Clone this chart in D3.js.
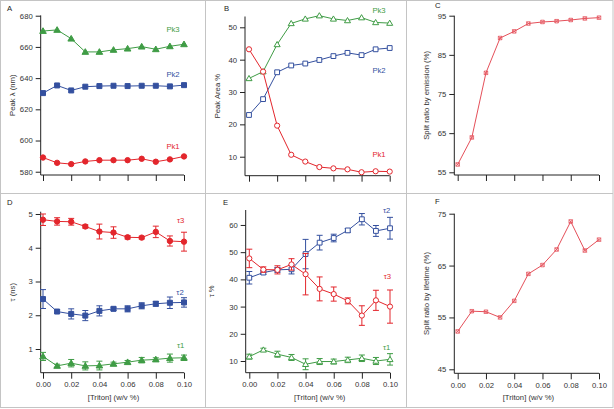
<!DOCTYPE html>
<html><head><meta charset="utf-8">
<script src="https://cdn.jsdelivr.net/npm/d3@7"></script>
<style>
body{margin:0;background:#fff;}
svg{display:block;font-family:"Liberation Sans",Arial,sans-serif;}
</style></head>
<body>
<script>
// ---------- data ----------
const triton = [0, 0.01, 0.02, 0.03, 0.04, 0.05, 0.06, 0.07, 0.08, 0.09, 0.10];
const xTicks = [0, 0.02, 0.04, 0.06, 0.08, 0.10];

// A: peak wavelength (nm)
const lambdaPk1 = [589.1, 585.7, 584.9, 586.6, 587.4, 587.4, 587.4, 588.3, 586.4, 587.9, 589.8];
const lambdaPk2 = [630.4, 635.3, 632.1, 634.5, 634.9, 635.1, 634.9, 635.1, 635.1, 634.7, 635.5];
const lambdaPk3 = [670.2, 670.9, 665.3, 656.8, 656.8, 658.1, 658.9, 660.2, 658.5, 660.4, 661.7];
const ticksA = [580, 600, 620, 640, 660, 680];

// B: peak area %
const areaPk1 = [43.2, 36.3, 19.6, 10.6, 8.5, 6.8, 6.4, 6.1, 5.2, 5.5, 5.4];
const areaPk2 = [22.9, 27.8, 36.1, 38.2, 38.8, 39.9, 41.1, 42.1, 41.4, 43.2, 43.6];
const areaPk3 = [34.2, 36.3, 44.7, 51.2, 52.6, 53.6, 52.6, 52.1, 53.0, 51.5, 51.3];
const ticksB = [10, 20, 30, 40, 50];

// C: split ratio by emission (%)
const splitEmission = [57.0, 63.9, 80.4, 89.3, 91.0, 93.0, 93.4, 93.6, 93.9, 94.3, 94.5];
const ticksC = [55, 65, 75, 85, 95];

// D: lifetimes (ns) with errors
const tau1 = [0.78, 0.50, 0.58, 0.50, 0.51, 0.56, 0.61, 0.67, 0.69, 0.73, 0.74];
const tau1Err = [0.12, 0.05, 0.11, 0.12, 0.13, 0.05, 0.05, 0.08, 0.05, 0.12, 0.08];
const tau2 = [2.48, 2.11, 2.04, 1.99, 2.13, 2.19, 2.19, 2.28, 2.34, 2.37, 2.38];
const tau2Err = [0.28, 0.05, 0.15, 0.15, 0.15, 0.05, 0.09, 0.09, 0.07, 0.17, 0.14];
const tau3 = [4.83, 4.78, 4.77, 4.63, 4.48, 4.45, 4.31, 4.30, 4.47, 4.20, 4.18];
const tau3Err = [0.17, 0.11, 0.10, 0.05, 0.22, 0.17, 0.05, 0.04, 0.17, 0.15, 0.28];
const ticksD = [1, 2, 3, 4, 5];

// E: lifetime fractions (%) with errors
const frac1 = [11.6, 14.1, 12.5, 11.3, 8.8, 9.8, 9.8, 10.4, 11.0, 10.0, 10.6];
const frac1Err = [0.9, 0.6, 1.1, 1.1, 2.0, 1.1, 0.9, 1.0, 1.2, 1.3, 2.1];
const frac2 = [40.6, 42.5, 43.5, 43.7, 49.3, 53.5, 55.2, 58.0, 62.1, 57.8, 58.8];
const frac2Err = [2.3, 0.7, 0.9, 1.7, 5.4, 2.7, 1.4, 0.7, 2.1, 2.0, 4.0];
const frac3 = [47.7, 43.6, 43.5, 45.5, 41.9, 36.5, 34.6, 32.1, 26.7, 32.3, 30.0];
const frac3Err = [3.4, 1.0, 1.5, 2.1, 7.6, 4.4, 2.6, 1.1, 3.6, 3.7, 6.1];
const ticksE = [10, 20, 30, 40, 50, 60];

// F: split ratio by lifetime (%)
const splitLifetime = [52.3, 56.2, 56.1, 55.0, 58.2, 63.4, 65.1, 68.1, 73.5, 67.9, 70.0];
const ticksF = [45, 55, 65, 75];

// ---------- styling ----------
const RED = "#e3262c", BLUE = "#34509f", GREEN = "#3f9c45", PINK = "#e5505a";
const W = 614, H = 409;
const FS = 7.7;

const svg = d3.select("body").append("svg").attr("width", W).attr("height", H);

// panel frames
const frame = svg.append("g").attr("stroke", "#c4c4c4").attr("fill", "none").attr("stroke-width", 1);
frame.append("rect").attr("x", 0.5).attr("y", 0.5).attr("width", 612.5).attr("height", 407);
frame.append("line").attr("x1", 205.5).attr("x2", 205.5).attr("y1", 0).attr("y2", 408);
frame.append("line").attr("x1", 406.5).attr("x2", 406.5).attr("y1", 0).attr("y2", 408);
frame.append("line").attr("x1", 0).attr("x2", 613).attr("y1", 193.5).attr("y2", 193.5);

function markerPath(type, size) {
  const s = size / 2;
  if (type === "circle") return d3.symbol(d3.symbolCircle, Math.PI * s * s)();
  if (type === "square") return `M${-s},${-s}H${s}V${s}H${-s}Z`;
  if (type === "triangle") { const h = size * 0.9; return `M0,${-h * 0.6}L${s * 1.1},${h * 0.45}L${-s * 1.1},${h * 0.45}Z`; }
  if (type === "cross") return `M${-s},${-s}L${s},${s}M${s},${-s}L${-s},${s}M${-s},${-s}H${s}V${s}H${-s}Z`;
  return "";
}

function panel(cfg) {
  const g = svg.append("g");
  const x = d3.scaleLinear().domain([0, 0.1]).range([cfg.x0, cfg.x1]);
  const y = d3.scaleLinear().domain(cfg.yDomain).range([cfg.yBottom, cfg.yTop]);

  // y axis
  const ya = g.append("g").attr("transform", `translate(${cfg.axisX},0)`)
    .call(d3.axisLeft(y).tickValues(cfg.yTicks).tickSize(5).tickPadding(3).tickFormat(d3.format("d")));
  ya.select(".domain").attr("d", `M0,${cfg.yTop}V${cfg.yBottom}`);
  // x axis
  const xa = g.append("g").attr("transform", `translate(0,${cfg.yBottom})`)
    .call(d3.axisBottom(x).tickValues(xTicks).tickSize(6).tickPadding(3)
      .tickFormat(cfg.xLabels ? d3.format(".2f") : () => ""));
  xa.select(".domain").attr("d", `M${cfg.axisX},0H${cfg.x1}`);
  g.selectAll(".domain, .tick line").attr("stroke", "#222").attr("stroke-width", 1);
  g.selectAll(".tick text").attr("font-size", FS).attr("fill", "#333").attr("font-family", "Liberation Sans, Arial, sans-serif");

  if (cfg.xLabels) {
    g.append("text").attr("x", (cfg.x0 + cfg.x1) / 2).attr("y", cfg.yBottom + 27)
      .attr("text-anchor", "middle").attr("font-size", FS).attr("fill", "#333").text("[Triton] (w/v %)");
  }
  g.append("text").attr("transform", `translate(${cfg.titleX},${(cfg.yTop + cfg.yBottom) / 2}) rotate(-90)`)
    .attr("text-anchor", "middle").attr("dy", "0.35em").attr("font-size", FS).attr("fill", "#333").text(cfg.title);
  g.append("text").attr("x", cfg.labelPos[0]).attr("y", cfg.labelPos[1]).attr("dy", "0.35em")
    .attr("font-size", FS).attr("fill", "#222").text(cfg.letter);

  cfg.series.forEach(s => {
    const pts = triton.map((t, i) => ({ t, v: s.values[i], e: s.err ? s.err[i] : 0 }));
    if (s.err) {
      const eb = g.append("g").attr("stroke", s.color).attr("stroke-width", 1);
      pts.forEach(p => {
        const cx = x(p.t);
        eb.append("line").attr("x1", cx).attr("x2", cx).attr("y1", y(p.v - p.e)).attr("y2", y(p.v + p.e));
        eb.append("line").attr("x1", cx - 3).attr("x2", cx + 3).attr("y1", y(p.v - p.e)).attr("y2", y(p.v - p.e));
        eb.append("line").attr("x1", cx - 3).attr("x2", cx + 3).attr("y1", y(p.v + p.e)).attr("y2", y(p.v + p.e));
      });
    }
    g.append("path").datum(pts)
      .attr("d", d3.line().x(p => x(p.t)).y(p => y(p.v)))
      .attr("fill", "none").attr("stroke", s.color).attr("stroke-width", 1);
    g.selectAll(null).data(pts).join("path")
      .attr("transform", p => `translate(${x(p.t)},${y(p.v)})`)
      .attr("d", markerPath(s.marker, s.size))
      .attr("fill", s.open ? "#fff" : (s.marker === "cross" ? "none" : s.color))
      .attr("stroke", s.color).attr("stroke-width", s.marker === "cross" ? 0.8 : 1);
    if (s.label) {
      g.append("text").attr("x", s.labelPos[0]).attr("y", s.labelPos[1]).attr("dy", "0.35em")
        .attr("text-anchor", "middle").attr("font-size", FS).attr("fill", s.color).text(s.label);
    }
  });
}

panel({
  letter: "A", labelPos: [7, 8], title: "Peak λ (nm)", titleX: 12,
  x0: 43, x1: 184, axisX: 40.7, yTop: 15.4, yBottom: 175, yDomain: [577.9, 680.2], yTicks: ticksA,
  series: [
    { values: lambdaPk3, color: GREEN, marker: "triangle", size: 6, label: "Pk3", labelPos: [173, 29.5] },
    { values: lambdaPk2, color: BLUE, marker: "square", size: 5, label: "Pk2", labelPos: [173, 74] },
    { values: lambdaPk1, color: RED, marker: "circle", size: 5.4, label: "Pk1", labelPos: [173, 146] }
  ]
});
panel({
  letter: "B", labelPos: [224, 8], title: "Peak Area %", titleX: 217,
  x0: 249, x1: 389.7, axisX: 245, yTop: 16.5, yBottom: 175.7, yDomain: [4.13, 53.34], yTicks: ticksB,
  series: [
    { values: areaPk3, color: GREEN, marker: "triangle", size: 5.5, open: true, label: "Pk3", labelPos: [379, 10.7] },
    { values: areaPk2, color: BLUE, marker: "square", size: 4.8, open: true, label: "Pk2", labelPos: [379, 70.7] },
    { values: areaPk1, color: RED, marker: "circle", size: 5.2, open: true, label: "Pk1", labelPos: [379, 154.3] }
  ]
});
panel({
  letter: "C", labelPos: [435, 5], title: "Split ratio by emission (%)", titleX: 426.7,
  x0: 457.7, x1: 599, axisX: 454.3, yTop: 15.7, yBottom: 175, yDomain: [54.31, 95], yTicks: ticksC,
  series: [
    { values: splitEmission, color: PINK, marker: "cross", size: 3.5 }
  ]
});
panel({
  letter: "D", labelPos: [7, 202], title: "τ (ns)", titleX: 12, xLabels: true,
  x0: 43, x1: 184, axisX: 40.7, yTop: 211.7, yBottom: 372.7, yDomain: [0.298, 5.068], yTicks: ticksD,
  series: [
    { values: tau3, err: tau3Err, color: RED, marker: "circle", size: 5.4, label: "τ3", labelPos: [180.7, 220.7] },
    { values: tau2, err: tau2Err, color: BLUE, marker: "square", size: 5, label: "τ2", labelPos: [180, 292.3] },
    { values: tau1, err: tau1Err, color: GREEN, marker: "triangle", size: 6, label: "τ1", labelPos: [180.7, 345.7] }
  ]
});
panel({
  letter: "E", labelPos: [223, 202.5], title: "τ %", titleX: 211.7, xLabels: true,
  x0: 249.3, x1: 390, axisX: 245.7, yTop: 210, yBottom: 372.7, yDomain: [5.7, 65.5], yTicks: ticksE,
  series: [
    { values: frac2, err: frac2Err, color: BLUE, marker: "square", size: 4.8, open: true, label: "τ2", labelPos: [386.7, 210] },
    { values: frac3, err: frac3Err, color: RED, marker: "circle", size: 5.2, open: true, label: "τ3", labelPos: [387.3, 276.7] },
    { values: frac1, err: frac1Err, color: GREEN, marker: "triangle", size: 5.5, open: true, label: "τ1", labelPos: [386.7, 347.3] }
  ]
});
panel({
  letter: "F", labelPos: [435, 201.7], title: "Split ratio by lifetime (%)", titleX: 426.7, xLabels: true,
  x0: 457.7, x1: 599, axisX: 454.3, yTop: 213.7, yBottom: 373.3, yDomain: [44.23, 75], yTicks: ticksF,
  series: [
    { values: splitLifetime, color: PINK, marker: "cross", size: 3.5 }
  ]
});
</script>
</body></html>
